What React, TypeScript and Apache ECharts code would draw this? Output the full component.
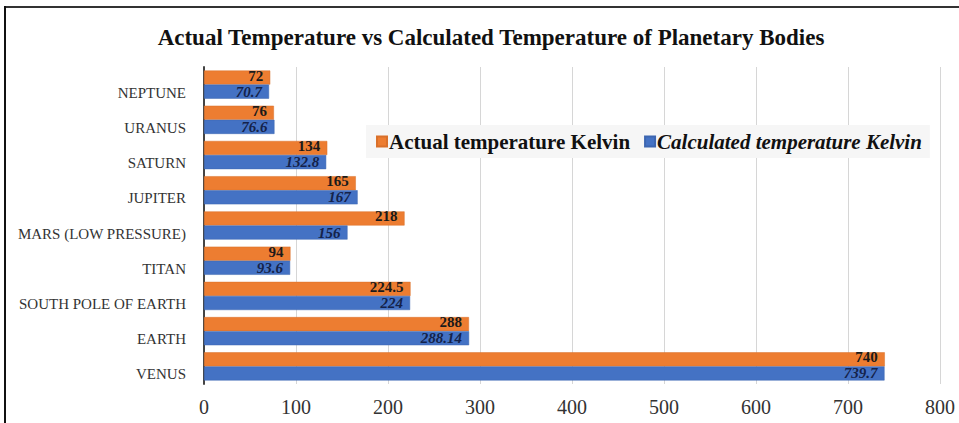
import React, { useEffect, useRef } from "react";
import * as echarts from "echarts";

const categories = [
  "NEPTUNE",
  "URANUS",
  "SATURN",
  "JUPITER",
  "MARS (LOW PRESSURE)",
  "TITAN",
  "SOUTH POLE OF EARTH",
  "EARTH",
  "VENUS",
];
const actualTemps = [72, 76, 134, 165, 218, 94, 224.5, 288, 740];
const calculatedTemps = [70.7, 76.6, 132.8, 167, 156, 93.6, 224, 288.14, 739.7];
const xTicks = [0, 100, 200, 300, 400, 500, 600, 700, 800];

const SERIF = "'Liberation Serif', 'DejaVu Serif', serif";

export default function App() {
  const ref = useRef<HTMLDivElement>(null);
  useEffect(() => {
    if (!ref.current) return;
    const chart = echarts.init(ref.current, null, { renderer: "svg" });
    chart.setOption({
      animation: false,
      backgroundColor: "#ffffff",
      title: {
        text: "Actual Temperature vs Calculated Temperature of Planetary Bodies",
        left: 486,
        textAlign: "center",
        top: 21,
        textStyle: {
          fontFamily: SERIF,
          fontSize: 23,
          fontWeight: "bold",
          color: "#111111",
        },
      },
      legend: {
        left: 366,
        top: 125,
        itemWidth: 10,
        itemHeight: 10,
        itemGap: 14,
        icon: "rect",
        backgroundColor: "#f6f6f6",
        padding: [6, 8, 6, 10],
        data: [
          {
            name: "Actual temperature Kelvin",
            textStyle: {
              fontFamily: SERIF,
              fontSize: 21,
              fontWeight: "bold",
              color: "#111111",
            },
          },
          {
            name: "Calculated temperature Kelvin",
            textStyle: {
              fontFamily: SERIF,
              fontSize: 21,
              fontWeight: "bold",
              fontStyle: "italic",
              color: "#111111",
            },
          },
        ],
        textStyle: { padding: [0, 0, 0, -3] },
      },
      grid: { left: 204, right: 19, top: 67, bottom: 39, containLabel: false },
      xAxis: {
        type: "value",
        min: xTicks[0],
        max: xTicks[xTicks.length - 1],
        interval: 100,
        axisLine: { show: false },
        axisTick: { show: false },
        splitLine: { show: true, lineStyle: { color: "#d6d6d6", width: 1 } },
        axisLabel: {
          fontFamily: SERIF,
          fontSize: 20,
          color: "#333333",
          margin: 13,
        },
      },
      yAxis: {
        type: "category",
        data: categories,
        inverse: true,
        axisLine: { show: true, lineStyle: { color: "#444444", width: 2 } },
        axisTick: { show: false },
        axisLabel: {
          fontFamily: SERIF,
          fontSize: 15,
          lineHeight: 16,
          verticalAlign: "top",
          color: "#333333",
          margin: 18,
        },
      },
      series: [
        {
          name: "Actual temperature Kelvin",
          type: "bar",
          data: actualTemps,
          barGap: "0%",
          barCategoryGap: "20%",
          itemStyle: { color: "#ED7D31", borderColor: "#d9702a", borderWidth: 0.5 },
          label: {
            show: true,
            position: "insideRight",
            offset: [-2, -2],
            fontFamily: SERIF,
            fontSize: 15,
            fontWeight: "bold",
            color: "#1a1a1a",
          },
        },
        {
          name: "Calculated temperature Kelvin",
          type: "bar",
          data: calculatedTemps,
          barGap: "0%",
          barCategoryGap: "20%",
          itemStyle: { color: "#4472C4", borderColor: "#3d66b0", borderWidth: 0.5 },
          label: {
            show: true,
            position: "insideRight",
            offset: [-2, 0],
            fontFamily: SERIF,
            fontSize: 15,
            fontWeight: "bold",
            fontStyle: "italic",
            color: "#14224a",
          },
        },
      ],
      graphic: [
        {
          type: "line",
          shape: { x1: 5, y1: 7, x2: 959, y2: 7 },
          style: { stroke: "#333333", lineWidth: 2 },
        },
        {
          type: "line",
          shape: { x1: 5, y1: 6, x2: 5, y2: 423 },
          style: { stroke: "#111111", lineWidth: 2 },
        },
      ],
    });
    return () => chart.dispose();
  }, []);
  return (
    <div
      ref={ref}
      style={{ position: "fixed", left: 0, top: 0, width: 959, height: 423 }}
    />
  );
}
